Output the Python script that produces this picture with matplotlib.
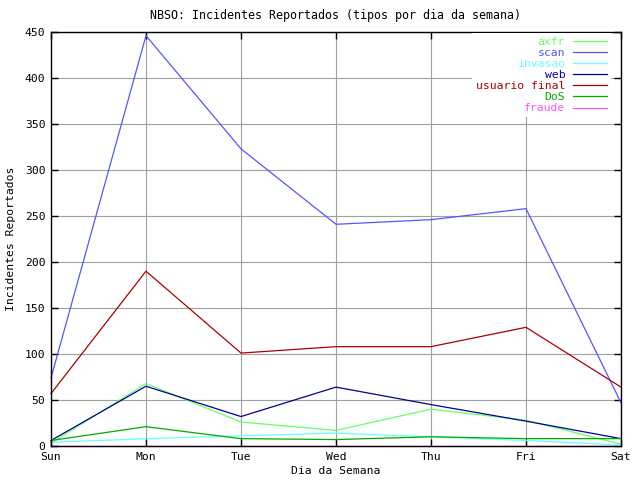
import matplotlib
matplotlib.use("Agg")
import matplotlib.pyplot as plt

# dados
dias = ["Sun", "Mon", "Tue", "Wed", "Thu", "Fri", "Sat"]
axfr = [3, 68, 26, 17, 40, 28, 2]
scan = [74, 446, 323, 241, 246, 258, 47]
invasao = [4, 8, 11, 14, 10, 6, 1]
web = [6, 65, 32, 64, 45, 27, 8]
usuario_final = [57, 190, 101, 108, 108, 129, 64]
dos = [6, 21, 8, 7, 10, 8, 8]
fraude = [0, 0, 0, 0, 0, 0, 0]

series = [
    ("axfr", axfr, "#66ff66"),
    ("scan", scan, "#5555ff"),
    ("invasao", invasao, "#66ffff"),
    ("web", web, "#000099"),
    ("usuario final", usuario_final, "#aa0000"),
    ("DoS", dos, "#00aa00"),
    ("fraude", fraude, "#ff55ff"),
]

plt.rcParams['font.family'] = ['DejaVu Sans Mono']
plt.rcParams['font.size'] = 8.2

fig = plt.figure(figsize=(6.4, 4.8), dpi=100)
ax = fig.add_axes([51/640, 34/480, 570/640, 414/480])

x = list(range(len(dias)))
for nome, vals, cor in series:
    ax.plot(x, vals, color=cor, lw=0.9, label=nome, clip_on=False)

ax.set_xlim(0, 6)
ax.set_ylim(0, 450)
ax.set_xticks(x)
ax.set_xticklabels(dias)
ax.set_yticks(range(0, 451, 50))
ax.grid(True, color="#a0a0a0", lw=0.8)
ax.set_axisbelow(True)
ax.tick_params(direction="in", top=True, right=True, length=5, width=1, pad=4)
for s in ax.spines.values():
    s.set_linewidth(1)

ax.set_title("NBSO: Incidentes Reportados (tipos por dia da semana)", fontsize=8.4, pad=9)
ax.set_xlabel("Dia da Semana", labelpad=3)
ax.set_ylabel("Incidentes Reportados", labelpad=6)

leg = ax.legend(loc="upper right", bbox_to_anchor=(0.982, 0.997),
                markerfirst=False, labelcolor="linecolor",
                frameon=True, facecolor="white", edgecolor="none", framealpha=1,
                fancybox=False, handlelength=3.0, handletextpad=0.7,
                labelspacing=0.1, borderpad=0.3, borderaxespad=0)
for t in leg.get_texts():
    t.set_ha("right")

fig.savefig("out.png", dpi=100)
